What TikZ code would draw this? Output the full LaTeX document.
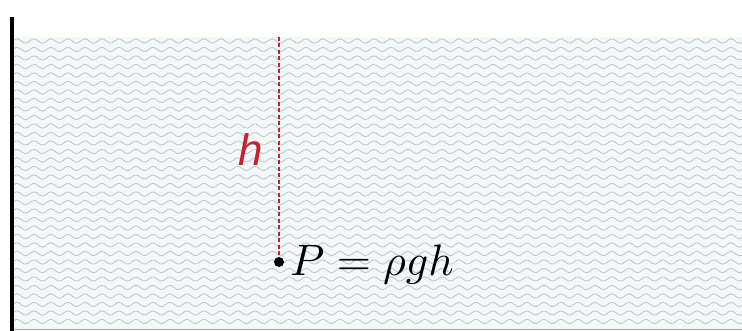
\documentclass[tikz,border=0pt]{standalone}
\usepackage{fontspec}
\newfontfamily\hfont{Liberation Sans}
\definecolor{waterbg}{HTML}{F3F9FA}
\definecolor{wave}{HTML}{BEC9CD}
\definecolor{hred}{HTML}{C8202A}
\tikzset{
  waveline/.style={draw=wave, line width=0.9pt},
  wallline/.style={line width=4pt, draw=black},
  hline/.style={draw=hred, dash pattern=on 4pt off 2.5pt, line width=1.1pt},
  dotnode/.style={circle, fill=black, inner sep=0pt, minimum size=10pt}
}
\begin{document}
\begin{tikzpicture}[x=1pt,y=-1pt]
\useasboundingbox (0,0) rectangle (742,331);
\fill[white] (0,0) rectangle (742,331);
\fill[waterbg] (14,37) rectangle (742,329);
\begin{scope}
\clip (14,36) rectangle (742,329);
\foreach \k in {0,...,33}{
  \pgfmathsetmacro{\yy}{41+8.5*\k}
  \draw[waveline] plot[domain=14:742, samples=260, smooth] (\x, {\yy - 2.2*cos(mod(\x,17)*21.17647)});
}
\end{scope}
\draw[gray!70, line width=1pt] (14,329) -- (742,329);
\coordinate (top) at (279,37);
\draw[hline] (top) -- (279,262);
\node[dotnode] (P) at (279,262) {};
\node[text=hred, anchor=base] (hl) at (251,166) {\hfont\itshape\fontsize{44}{44}\selectfont h};
\node[anchor=base west, inner sep=0pt] (eq) at (290,276) {\scalebox{4.4}{$P=\rho gh$}};
\draw[wallline] (12,17) -- (12,331);
\end{tikzpicture}
\end{document}
